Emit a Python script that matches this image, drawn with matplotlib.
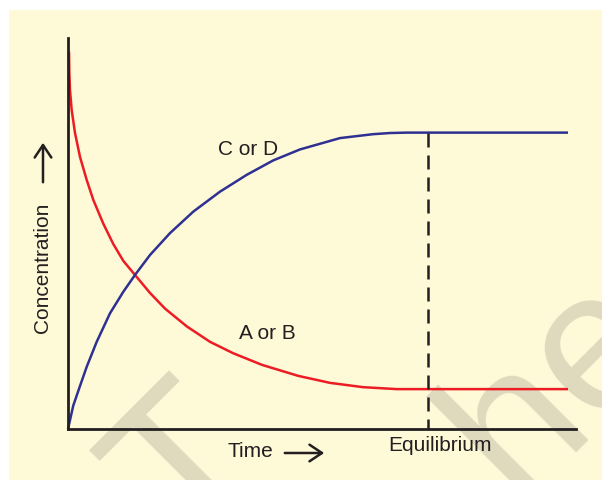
import matplotlib.pyplot as plt
from matplotlib.patches import Rectangle, FancyArrowPatch

plt.rcParams["font.family"] = ["Liberation Sans", "DejaVu Sans"]

# --- Data (arbitrary time / concentration units) ---
red_time = [0.020, 0.026, 0.039, 0.073, 0.138, 0.236, 0.368, 0.498, 0.695, 0.892,
            1.089, 1.319, 1.614, 1.909, 2.343, 2.795, 3.248, 3.819, 4.528, 5.157,
            5.807, 6.476, 7.087, 9.843]
red_conc = [9.65, 9.13, 8.67, 8.15, 7.57, 6.96, 6.37, 5.86, 5.25, 4.73,
            4.30, 3.94, 3.48, 3.08, 2.62, 2.23, 1.94, 1.64, 1.36, 1.18,
            1.07, 1.02, 1.02, 1.02]

blue_time = [0.000, 0.104, 0.236, 0.368, 0.565, 0.827, 1.089, 1.319, 1.614, 2.008,
             2.467, 2.992, 3.518, 4.041, 4.567, 5.354, 6.004, 6.340, 6.673, 7.087,
             9.843]
blue_conc = [0.00, 0.60, 1.10, 1.59, 2.23, 2.96, 3.51, 3.94, 4.45, 5.01,
             5.56, 6.07, 6.50, 6.87, 7.15, 7.44, 7.54, 7.57, 7.58, 7.58,
             7.58]

eq_time = 7.087
red_label = "A or B"
blue_label = "C or D"

W, H = 602, 480
ink = "#231f20"


def fx(px):
    return px / W


def fy(py):
    return 1 - py / H


# --- Figure / background ---
fig = plt.figure(figsize=(W / 100, H / 100), dpi=100, facecolor="white")
fig.patches.append(Rectangle((fx(9), 0), 1 - fx(9), fy(10), transform=fig.transFigure,
                             facecolor="#fef9d7", edgecolor="none", zorder=-2))

# watermark fragments
wm = "#dfdabd"
fig.text(fx(123), fy(402), "T", fontsize=144, color=wm, rotation=45,
         rotation_mode="anchor", ha="center", va="top", zorder=-1)
fig.text(fx(515), fy(500), "he", fontsize=144, color=wm, rotation=45,
         rotation_mode="anchor", ha="left", va="baseline", zorder=-1)

ax = fig.add_axes([fx(68), fy(429), fx(576) - fx(68), fy(38) - fy(429)])
ax.set_zorder(1)
ax.patch.set_alpha(0)
ax.set_xlim(0, 10)
ax.set_ylim(0, 10)
for side in ["top", "right"]:
    ax.spines[side].set_visible(False)
for side in ["left", "bottom"]:
    ax.spines[side].set_linewidth(2.0)
    ax.spines[side].set_color(ink)
ax.set_xticks([])
ax.set_yticks([])

ax.plot(red_time, red_conc, color="#ed1c24", lw=1.8, clip_on=False,
        solid_capstyle="butt", solid_joinstyle="round")
ax.plot(blue_time, blue_conc, color="#2e3192", lw=1.8, clip_on=False,
        solid_capstyle="butt", solid_joinstyle="round")
ax.plot([eq_time, eq_time], [blue_conc[-1], 0], color=ink, lw=1.8,
        linestyle=(0, (5.6, 3.2)))

# --- Labels ---
fs = 15
fig.text(fx(248.5), fy(155), blue_label, fontsize=fs, color=ink, ha="center", va="baseline")
fig.text(fx(267.5), fy(339), red_label, fontsize=fs, color=ink, ha="center", va="baseline")
fig.text(fx(250), fy(457), "Time", fontsize=fs, color=ink, ha="center", va="baseline")
fig.text(fx(440), fy(451), "Equilibrium", fontsize=fs, color=ink, ha="center", va="baseline")
fig.text(fx(48), fy(268), "Concentration", fontsize=fs, color=ink, rotation=90,
         rotation_mode="anchor", ha="center", va="baseline")

# arrows next to the axis titles
for (x0, y0), (x1, y1) in [((282, 453), (327, 453)), ((43, 185), (43, 140))]:
    fig.patches.append(FancyArrowPatch((fx(x0), fy(y0)), (fx(x1), fy(y1)),
                                       transform=fig.transFigure,
                                       arrowstyle="->,head_length=0.45,head_width=0.3",
                                       mutation_scale=20, lw=1.8, color=ink))

fig.savefig("out.png", dpi=100, facecolor=fig.get_facecolor())
